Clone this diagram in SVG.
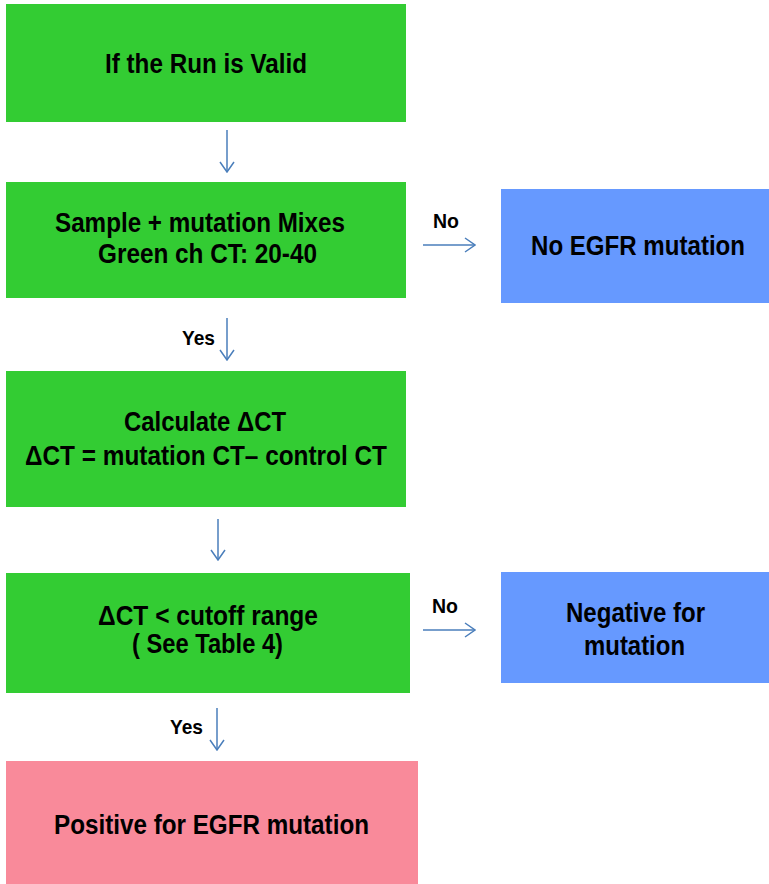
<svg xmlns="http://www.w3.org/2000/svg" width="769" height="884" viewBox="0 0 769 884">
<defs>
<style>
.g{fill:#33CC33}
.b{fill:#6699FF}
.p{fill:#F98A9A}
.t{font-family:"Liberation Sans",Arial,sans-serif;font-weight:bold;font-size:27px;fill:#000;text-anchor:middle}
.l{font-family:"Liberation Sans",Arial,sans-serif;font-weight:bold;font-size:21px;fill:#000;text-anchor:middle}
.c{stroke:#4A7EBB;stroke-width:1.5;fill:none}
</style>
<marker id="ah" viewBox="0 0 12 16" refX="11" refY="8" markerWidth="12" markerHeight="16" markerUnits="userSpaceOnUse" orient="auto">
<path d="M1,1 L11,8 L1,15" fill="none" stroke="#4A7EBB" stroke-width="1.5"/>
</marker>
</defs>
<rect width="769" height="884" fill="#fff"/>
<g id="connectors">
<line class="c" x1="227" y1="130" x2="227" y2="172" marker-end="url(#ah)"/>
<line class="c" x1="227" y1="318" x2="227" y2="360" marker-end="url(#ah)"/>
<line class="c" x1="218" y1="519" x2="218" y2="560" marker-end="url(#ah)"/>
<line class="c" x1="217" y1="708" x2="217" y2="750" marker-end="url(#ah)"/>
<line class="c" x1="423" y1="245" x2="475" y2="245" marker-end="url(#ah)"/>
<line class="c" x1="423" y1="630" x2="475" y2="630" marker-end="url(#ah)"/>
<text class="l" x="446" y="228" textLength="26" lengthAdjust="spacingAndGlyphs">No</text>
<text class="l" x="445" y="613" textLength="26" lengthAdjust="spacingAndGlyphs">No</text>
<text class="l" x="198.5" y="345" textLength="33" lengthAdjust="spacingAndGlyphs">Yes</text>
<text class="l" x="186.5" y="734" textLength="33" lengthAdjust="spacingAndGlyphs">Yes</text>
</g>
<g id="n1">
<rect class="g" x="6" y="4" width="400" height="118"/>
<text class="t" x="206" y="73" font-size="28" textLength="202" lengthAdjust="spacingAndGlyphs">If the Run is Valid</text>
</g>
<g id="n2">
<rect class="g" x="6" y="182" width="400" height="116"/>
<text class="t" x="200" y="232" textLength="290" lengthAdjust="spacingAndGlyphs">Sample + mutation Mixes</text>
<text class="t" x="207.5" y="263" textLength="219" lengthAdjust="spacingAndGlyphs">Green ch CT: 20-40</text>
</g>
<g id="n3">
<rect class="b" x="501" y="189" width="268" height="114"/>
<text class="t" x="638" y="255" font-size="25" textLength="214" lengthAdjust="spacingAndGlyphs">No EGFR mutation</text>
</g>
<g id="n4">
<rect class="g" x="6" y="371" width="400" height="136"/>
<text class="t" x="205" y="431" textLength="162" lengthAdjust="spacingAndGlyphs">Calculate ΔCT</text>
<text class="t" x="206" y="465" textLength="362" lengthAdjust="spacingAndGlyphs">ΔCT = mutation CT– control CT</text>
</g>
<g id="n5">
<rect class="g" x="6" y="573" width="404" height="120"/>
<text class="t" x="208" y="625" textLength="220" lengthAdjust="spacingAndGlyphs">ΔCT &lt; cutoff range</text>
<text class="t" x="207.5" y="653" textLength="151" lengthAdjust="spacingAndGlyphs">( See Table 4)</text>
</g>
<g id="n6">
<rect class="b" x="501" y="572" width="268" height="111"/>
<text class="t" x="635.5" y="622" textLength="139" lengthAdjust="spacingAndGlyphs">Negative for</text>
<text class="t" x="634.5" y="655" textLength="101" lengthAdjust="spacingAndGlyphs">mutation</text>
</g>
<g id="n7">
<rect class="p" x="6" y="761" width="412" height="123"/>
<text class="t" x="211.5" y="834" textLength="315" lengthAdjust="spacingAndGlyphs">Positive for EGFR mutation</text>
</g>
</svg>
